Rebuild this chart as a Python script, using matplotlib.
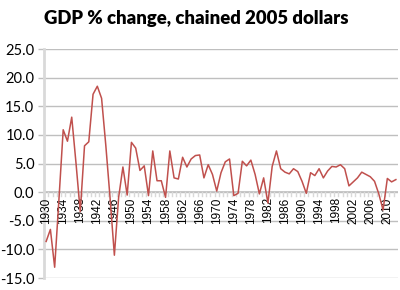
import matplotlib
matplotlib.use("Agg")
import matplotlib.pyplot as plt
import numpy as np

years = list(range(1930, 2013))
gdp_change = [-8.6, -6.5, -13.1, -1.3, 10.9, 8.9, 13.1, 5.1, -3.4, 8.1,
              8.8, 17.1, 18.5, 16.4, 8.1, -1.1, -11.0, -0.9, 4.4, -0.5,
              8.7, 7.7, 3.8, 4.6, -0.6, 7.2, 2.0, 2.0, -0.9, 7.2,
              2.5, 2.3, 6.1, 4.4, 5.8, 6.4, 6.5, 2.5, 4.8, 3.1,
              0.2, 3.4, 5.3, 5.8, -0.6, -0.2, 5.4, 4.6, 5.6, 3.1,
              -0.3, 2.5, -1.9, 4.5, 7.2, 4.1, 3.5, 3.2, 4.1, 3.6,
              1.9, -0.2, 3.4, 2.9, 4.1, 2.5, 3.7, 4.5, 4.4, 4.8,
              4.1, 1.1, 1.8, 2.5, 3.5, 3.1, 2.7, 1.9, -0.3, -3.1,
              2.4, 1.8, 2.2]
x_tick_years = list(range(1930, 2011, 4))
y_ticks = [-15, -10, -5, 0, 5, 10, 15, 20, 25]
title = "GDP % change, chained 2005 dollars"

fig = plt.figure(figsize=(4, 2.9), dpi=100)
ax = fig.add_axes([0.11, 0.041, 0.885, 0.79])

grid_col = "#BFBFBF"
ax.set_ylim(-15, 25)
ax.set_xlim(1929.5, 2012.5)
ax.set_yticks(y_ticks)
ax.set_yticklabels([f"{v:.1f}" for v in y_ticks], fontsize=10.5, family=["Lato", "DejaVu Sans"])
ax.yaxis.grid(True, color=grid_col, linewidth=1.0)
ax.set_axisbelow(True)
ax.tick_params(axis="y", length=4, color=grid_col, width=1, pad=3)

for s in ["top", "right", "bottom"]:
    ax.spines[s].set_visible(False)
ax.spines["left"].set_color("#D9D9D9")
ax.spines["left"].set_linewidth(2)

# x axis at zero
ax.set_xticks([])
ax.axhline(0, color="#BFBFBF", linewidth=1.2, zorder=1)
for yr in years:
    ax.plot([yr - 0.5, yr - 0.5], [0, -0.6], color="#D9D9D9", linewidth=1, zorder=1)
for yr in x_tick_years:
    ax.text(yr, -0.9, str(yr), rotation=90, ha="center", va="top",
            fontsize=8.5, family=["Liberation Sans", "DejaVu Sans"], color="black")

ax.plot(years, gdp_change, color="#C0504D", linewidth=1.1, zorder=3)

fig.text(0.49, 0.935, title, ha="center", va="center", fontsize=13.3,
         fontweight="heavy", family=["Lato", "DejaVu Sans"])

fig.savefig("out.png", dpi=100)
